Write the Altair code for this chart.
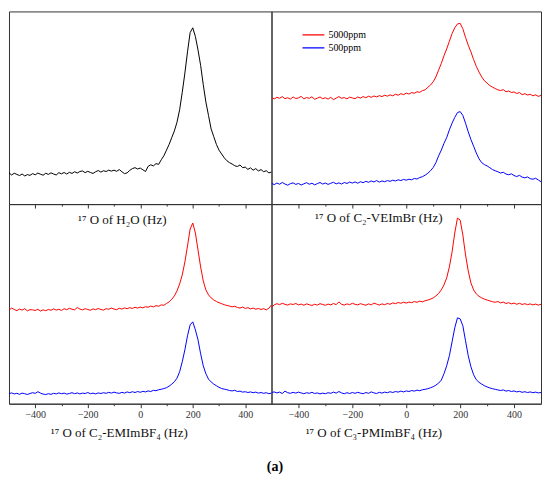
import altair as alt
import pandas as pd

# frequency grid (Hz), one point every 10 Hz
hz = list(range(-500, 501, 10))

# 17O of H2O
h2o = [
    16.2, 15.1, 16.0, 15.4, 14.8, 15.6, 14.6, 15.3, 14.9, 15.8,
    15.2, 16.1, 15.5, 15.0, 16.0, 15.4, 16.2, 15.6, 15.1, 16.3,
    15.7, 16.4, 15.6, 16.5, 15.9, 16.8, 16.1, 16.9, 17.2, 16.3,
    17.0, 16.4, 15.9, 16.8, 17.4, 16.6, 17.3, 16.9, 17.6, 17.1,
    17.6, 17.0, 17.9, 16.8, 15.8, 16.2, 17.5, 18.4, 18.9, 18.2,
    18.7, 17.8, 16.9, 19.6, 20.4, 19.8, 21.0, 20.6, 23.0, 25.1,
    28.0, 31.0, 34.5, 38.0, 42.5, 49.0, 58.0, 68.0, 79.0, 89.0,
    91.5, 87.0, 80.0, 72.0, 62.0, 53.0, 46.0, 39.0, 35.0, 31.0,
    28.0, 26.0, 24.0, 22.5, 21.5, 20.8, 19.9, 19.5, 20.3, 18.9,
    19.2, 18.0, 18.8, 17.6, 18.4, 17.2, 17.9, 16.8, 17.3, 16.2,
    16.6,
]

# 17O of C2-VEImBr
vei_5000 = [
    55.3, 54.6, 55.4, 54.9, 55.8, 54.7, 55.2, 54.5, 55.6, 54.8,
    55.1, 55.9, 54.6, 55.3, 54.9, 55.7, 54.4, 55.0, 55.6, 54.7,
    55.2, 54.5, 55.4, 54.2, 55.0, 55.8, 54.9, 55.3, 54.6, 55.5,
    55.1, 54.7, 55.6, 55.0, 55.8, 55.2, 56.0, 55.4, 56.1, 55.6,
    56.3, 55.8, 56.5, 56.0, 56.7, 56.2, 57.0, 56.5, 57.3, 56.8,
    57.6, 57.1, 57.9, 57.5, 58.3, 58.0, 58.9, 59.3, 60.6, 61.8,
    63.5, 66.0, 69.5, 73.0, 77.0, 80.5, 84.5, 88.5, 91.5, 93.5,
    93.8, 91.0, 86.5, 82.5, 79.0, 75.0, 71.5, 68.5, 66.0, 64.0,
    62.8, 61.5, 60.7, 60.0, 59.3, 58.9, 59.4, 58.3, 58.7, 57.9,
    58.2, 57.4, 57.9, 56.8, 57.3, 56.6, 57.0, 56.2, 56.7, 55.9,
    56.4,
]
vei_500 = [
    10.8, 10.1, 10.9, 10.3, 11.2, 10.4, 9.8, 10.6, 11.0, 10.2,
    10.7, 9.9, 10.5, 11.1, 10.3, 10.8, 10.0, 10.6, 11.2, 10.4,
    10.9, 10.2, 10.8, 11.3, 10.5, 11.0, 10.4, 11.2, 10.7, 11.4,
    10.9, 11.5, 10.8, 11.6, 11.1, 11.8, 11.3, 12.0, 11.5, 12.2,
    11.4, 12.0, 11.6, 12.2, 11.8, 12.4, 12.0, 12.6, 12.2, 12.8,
    12.4, 12.9, 12.6, 13.3, 13.0, 13.8, 14.2, 15.0, 16.0, 17.3,
    19.0, 21.5, 25.0, 28.0, 31.5, 34.5, 38.5, 42.0, 45.0, 47.5,
    48.0, 46.0, 42.0, 37.5, 33.5, 30.0, 26.5, 23.5, 21.5, 20.5,
    19.8, 18.9, 17.9, 17.3, 16.8, 16.1, 16.5, 15.6, 15.2, 15.7,
    14.8, 14.3, 14.9, 14.0, 13.6, 14.1, 13.2, 12.9, 13.4, 12.5,
    11.6,
]

# 17O of C2-EMImBF4
emi_5000 = [
    46.8, 47.9, 47.2, 46.6, 47.4, 46.9, 47.6, 46.5, 47.1, 47.0,
    46.7, 47.3, 46.4, 47.0, 46.6, 47.2, 46.8, 47.5, 46.9, 47.3,
    46.7, 47.6, 47.1, 47.8, 47.3, 47.0, 48.2, 47.4, 47.0, 47.6,
    47.2, 46.8, 47.5, 47.1, 47.7, 47.2, 46.9, 47.6, 47.3, 47.9,
    47.4, 47.1, 47.8, 47.4, 48.0, 47.6, 48.1, 47.7, 48.3, 47.9,
    48.4, 48.0, 48.6, 48.3, 48.9, 48.5, 49.1, 48.8, 49.5, 49.3,
    50.2, 51.0, 52.3, 54.0, 56.5, 60.0, 64.5, 71.0, 79.0, 87.5,
    90.5, 85.5, 77.0, 68.5, 61.5, 57.0, 54.5, 53.0, 52.0, 51.2,
    50.6, 50.1, 49.6, 49.2, 48.9, 48.5, 48.8, 48.2, 47.9, 48.4,
    47.7, 48.1, 47.5, 47.9, 47.3, 47.7, 47.2, 47.6, 47.0, 47.8,
    49.5,
]
emi_500 = [
    5.0, 5.4, 4.9, 5.2, 4.7, 5.3, 5.0, 4.6, 5.1, 5.5,
    5.2, 6.0, 5.3, 4.8, 4.6, 5.0, 4.7, 5.2, 4.9, 5.4,
    5.0, 5.3, 4.8, 5.1, 5.5, 5.0, 5.4, 4.9, 5.3, 5.1,
    5.6, 5.0, 5.3, 4.9, 5.4, 5.1, 5.5, 5.2, 5.7, 5.3,
    5.8, 5.4, 5.2, 5.7, 5.3, 5.9, 5.5, 6.0, 5.6, 6.1,
    5.7, 6.2, 5.9, 6.4, 6.1, 6.7, 6.5, 7.0, 7.2, 7.6,
    8.0, 8.8, 9.8, 11.0, 12.8, 16.0, 21.0, 27.0, 34.0, 39.5,
    41.0, 37.0, 32.0, 25.0, 19.0, 15.0, 12.3, 10.9, 9.8, 9.0,
    8.2, 7.6, 7.3, 7.0, 6.6, 6.4, 6.7, 6.1, 6.3, 5.8,
    6.0, 5.6, 5.9, 5.5, 5.8, 5.3, 5.6, 5.2, 5.5, 5.0,
    5.3,
]

# 17O of C3-PMImBF4
pmi_5000 = [
    48.2, 49.5, 50.1, 49.6, 50.3, 49.8, 49.4, 50.0, 49.7, 50.2,
    49.5, 49.9, 49.3, 50.0, 49.6, 49.2, 49.8, 49.4, 50.1, 49.7,
    49.3, 49.9, 49.5, 50.2, 49.6, 51.0, 49.8, 49.4, 50.0, 49.6,
    50.3, 49.8, 49.5, 50.1, 49.7, 49.3, 50.0, 49.5, 50.4, 49.9,
    49.4, 50.0, 49.6, 50.2, 49.8, 50.5, 50.1, 50.7, 50.3, 50.8,
    50.4, 50.9, 50.6, 51.2, 50.8, 51.4, 51.0, 51.6, 51.9, 52.4,
    53.0, 54.0, 55.2, 57.0, 59.5, 63.0, 68.5, 76.0, 85.5, 93.0,
    92.0, 84.5, 74.5, 66.5, 60.5, 57.0, 55.0, 53.8, 53.0, 52.4,
    51.9, 51.5, 51.1, 50.8, 51.2, 50.5, 50.9, 50.2, 50.6, 50.0,
    50.4, 49.8, 50.3, 49.7, 50.1, 49.6, 50.0, 49.5, 49.9, 49.4,
    49.8,
]
pmi_500 = [
    5.6, 5.9, 5.4, 5.8, 5.1, 6.3, 5.5, 5.2, 5.7, 5.3,
    5.8, 5.4, 5.0, 5.5, 5.2, 5.7, 5.1, 5.4, 4.9, 5.3,
    5.0, 5.5, 5.2, 5.8, 5.3, 6.1, 5.4, 5.0, 5.5, 5.1,
    5.6, 5.2, 5.7, 5.3, 5.0, 5.6, 5.2, 5.9, 5.4, 5.1,
    5.7, 5.3, 5.8, 5.5, 6.0, 5.6, 6.1, 5.8, 6.3, 5.9,
    6.4, 6.1, 6.6, 6.3, 6.8, 6.5, 7.0, 7.2, 7.5, 8.0,
    8.5, 9.3, 10.3, 11.8, 15.0, 19.0, 24.0, 31.0, 38.0, 43.0,
    42.5, 39.0, 31.5, 24.0, 18.5, 14.5, 12.0, 10.7, 9.8, 9.0,
    8.4, 7.9, 7.5, 7.2, 6.9, 6.6, 6.9, 6.3, 6.6, 6.1,
    6.4, 5.9, 6.2, 5.7, 6.0, 5.6, 5.9, 5.5, 5.8, 5.4,
    5.6,
]

series_names = ["5000ppm", "500ppm"]
series_colors = ["#ff0000", "#0000ff"]

titles = [
    "\u00b9\u2077 O of H\u2082O (Hz)",
    "\u00b9\u2077 O of C\u2082-VEImBr (Hz)",
    "\u00b9\u2077 O of C\u2082-EMImBF\u2084 (Hz)",
    "\u00b9\u2077 O of C\u2083-PMImBF\u2084 (Hz)",
]

SERIF = "Liberation Serif"
tick_vals = [-400, -300, -200, -100, 0, 100, 200, 300, 400]


def two_series(a, b):
    return pd.DataFrame({
        "hz": hz + hz,
        "v": a + b,
        "series": [series_names[0]] * len(hz) + [series_names[1]] * len(hz),
    })


def make_axis(title, tx, ty, labels):
    return alt.Axis(
        values=tick_vals,
        labels=labels,
        labelExpr="datum.value % 200 === 0 ? datum.label : ''",
        labelFont=SERIF, labelFontSize=10, labelColor="#333", labelPadding=2,
        tickSize={"condition": {"test": "datum.value % 200 === 0", "value": 4}, "value": 2},
        tickColor="#333", tickWidth=1, domainColor="#333", grid=False,
        title=title, titleFont=SERIF, titleFontSize=13, titleFontWeight="normal",
        titleColor="#111", titleX=tx, titleY=ty, titleAlign="center",
        titleBaseline="alphabetic",
    )


def panel(df, title, tx, ty, labels, w, h, single=False, legend=False):
    x = alt.X("hz:Q", scale=alt.Scale(domain=[-500, 500], nice=False, zero=False),
              axis=make_axis(title, tx, ty, labels))
    y = alt.Y("v:Q", scale=alt.Scale(domain=[0, 100], nice=False), axis=None)
    base = alt.Chart(df).mark_line(strokeWidth=1, clip=True)
    if single:
        ch = base.encode(x=x, y=y, color=alt.value("#000000"))
    else:
        leg = None
        if legend:
            leg = alt.Legend(
                orient="none", legendX=293, legendY=17, title=None,
                symbolType="stroke", symbolSize=480, symbolStrokeWidth=1.2,
                labelFont=SERIF, labelFontSize=10, labelColor="#000",
                clipHeight=13, rowPadding=0, labelOffset=3, padding=0,
            )
        color = alt.Color("series:N",
                          scale=alt.Scale(domain=series_names, range=series_colors),
                          legend=leg)
        ch = base.encode(x=x, y=y, color=color, detail="series:N")
    return ch.properties(width=w, height=h)


h2o_df = pd.DataFrame({"hz": hz, "v": h2o})
tl = panel(h2o_df, titles[0], 113, 19, False, 263, 193, single=True)
tr = panel(two_series(vei_5000, vei_500), titles[1], 107, 17, False, 270, 193, legend=True)
bl = panel(two_series(emi_5000, emi_500), titles[2], 110, 33, True, 263, 200)
br = panel(two_series(pmi_5000, pmi_500), titles[3], 102, 33, True, 270, 200)

chart = alt.concat(tl, tr, bl, br, columns=2, spacing=0, bounds="flush").properties(
    title=alt.TitleParams("(a)", orient="bottom", anchor="middle", font=SERIF,
                          fontSize=14, fontWeight="bold", color="#000", offset=20),
    padding={"left": 0, "top": 2, "right": 0, "bottom": 0},
).configure_view(stroke="#333", strokeWidth=1)

chart.save("out.html", embed_options={"renderer": "svg", "actions": False})
